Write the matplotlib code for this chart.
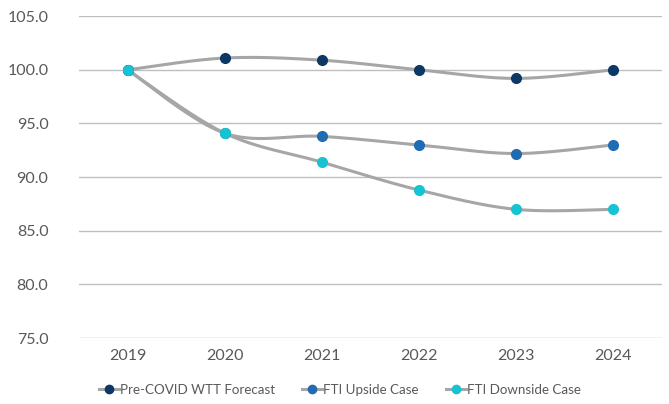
import numpy as np
import matplotlib.pyplot as plt
from matplotlib.lines import Line2D

years = ["2019", "2020", "2021", "2022", "2023", "2024"]
pre_covid = [100.0, 101.1, 100.9, 100.0, 99.2, 100.0]
upside = [100.0, 94.1, 93.8, 93.0, 92.2, 93.0]
downside = [100.0, 94.1, 91.4, 88.8, 87.0, 87.0]

series_names = ["Pre-COVID WTT Forecast", "FTI Upside Case", "FTI Downside Case"]
marker_colors = ["#0C3866", "#1F6CB4", "#16C3D2"]
line_color = "#A6A6A6"


def smooth(y, n=40):
    # Excel-style smoothed line: cubic Bezier segments through the points
    x = np.arange(len(y), dtype=float)
    y = np.asarray(y, dtype=float)
    pts = np.column_stack([x, y])
    out = []
    for i in range(len(pts) - 1):
        p0 = pts[i]
        p3 = pts[i + 1]
        prev = pts[i - 1] if i > 0 else pts[i]
        nxt = pts[i + 2] if i + 2 < len(pts) else pts[i + 1]
        p1 = p0 + (p3 - prev) / 6
        p2 = p3 - (nxt - p0) / 6
        t = np.linspace(0, 1, n)[:, None]
        seg = ((1 - t) ** 3) * p0 + 3 * ((1 - t) ** 2) * t * p1 + 3 * (1 - t) * t ** 2 * p2 + t ** 3 * p3
        out.append(seg if i == 0 else seg[1:])
    seg = np.vstack(out)
    return seg[:, 0], seg[:, 1]


plt.rcParams["font.family"] = ["Lato", "DejaVu Sans"]

fig = plt.figure(figsize=(6.69, 4.04), dpi=100)
ax = fig.add_axes([0.118, 0.163, 0.871, 0.797])

xs = np.arange(len(years))
for vals, color in zip([pre_covid, upside, downside], marker_colors):
    sx, sy = smooth(vals)
    ax.plot(sx, sy, color=line_color, lw=2.2, solid_capstyle="round", zorder=2)
    ax.plot(xs, vals, ls="none", marker="o", ms=7, color=color, zorder=3)

ax.set_xlim(-0.5, len(years) - 0.5)
ax.set_ylim(75, 105)
ax.set_yticks(np.arange(75, 106, 5))
ax.set_yticklabels([f"{v:.1f}" for v in np.arange(75, 106, 5)])
ax.set_xticks(xs)
ax.set_xticklabels(years)
ax.yaxis.grid(True, color="#BFBFBF", lw=1)
ax.set_axisbelow(True)
for s in ax.spines.values():
    s.set_visible(False)
ax.tick_params(length=0, labelsize=11.5, colors="#595959", pad=8)
ax.tick_params(axis="y", pad=22)

handles = [Line2D([0], [0], color=line_color, lw=2.2, marker="o", ms=6,
                  markerfacecolor=c, markeredgecolor=c) for c in marker_colors]
fig.legend(handles, series_names, loc="center", bbox_to_anchor=(0.508, 0.035),
           ncol=3, frameon=False, fontsize=9.6, labelcolor="#595959",
           handlelength=1.5, handletextpad=0.1, columnspacing=2.0)

plt.savefig("out.png", dpi=100)
